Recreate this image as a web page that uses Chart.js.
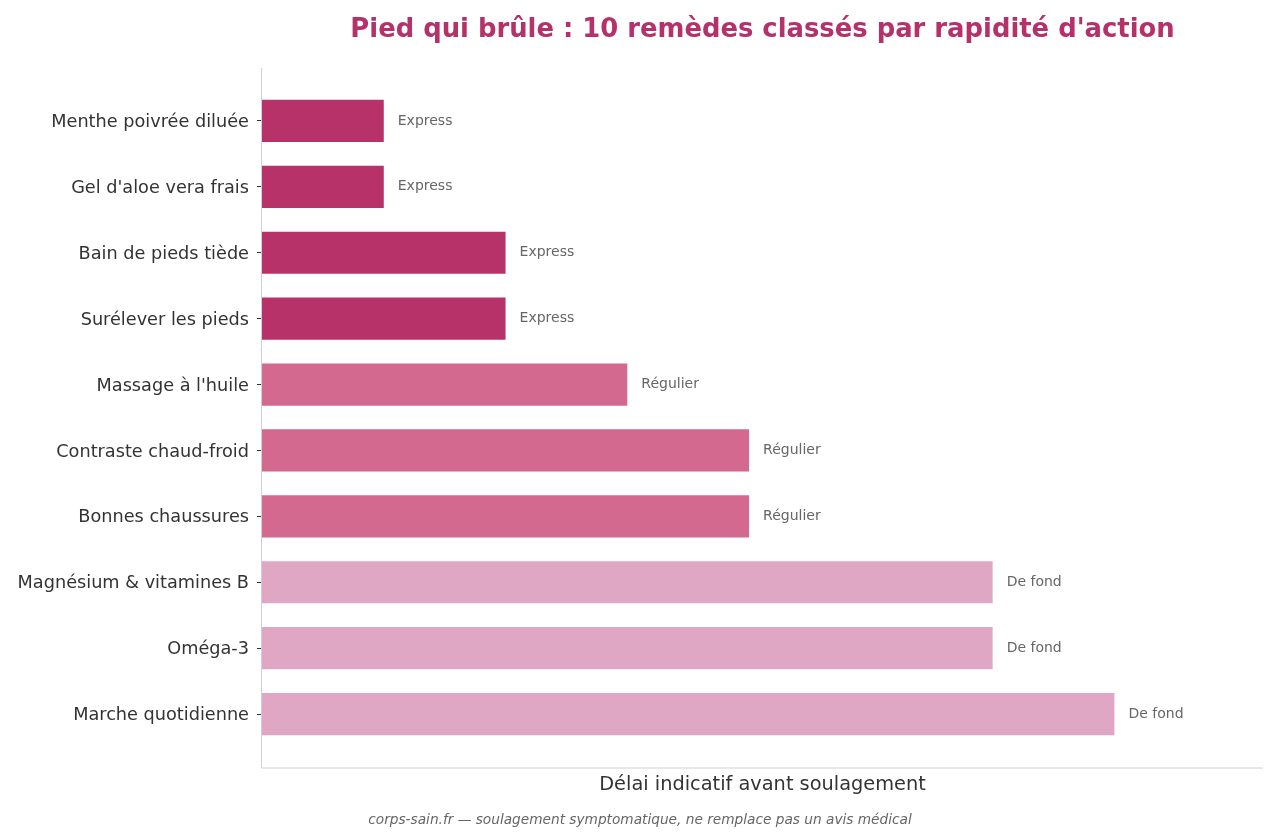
<!DOCTYPE html>
<html>
<head>
<meta charset="utf-8">
<script src="https://cdn.jsdelivr.net/npm/chart.js"></script>
<style>
  html, body { margin: 0; padding: 0; background: #fff; }
  #wrap { width: 1280px; height: 837px; }
</style>
</head>
<body>
<div id="wrap"><canvas id="chart" width="1280" height="837"></canvas></div>
<script>
const categories = [
  'Menthe poivrée diluée',
  "Gel d'aloe vera frais",
  'Bain de pieds tiède',
  'Surélever les pieds',
  "Massage à l'huile",
  'Contraste chaud-froid',
  'Bonnes chaussures',
  'Magnésium & vitamines B',
  'Oméga-3',
  'Marche quotidienne'
];
const delays = [1, 1, 2, 2, 3, 4, 4, 6, 6, 7];
const speedGroups = ['Express', 'Express', 'Express', 'Express', 'Régulier', 'Régulier', 'Régulier', 'De fond', 'De fond', 'De fond'];
const groupColors = { 'Express': '#B8326A', 'Régulier': '#D4698F', 'De fond': '#E0A7C5' };

const titleText = "Pied qui brûle : 10 remèdes classés par rapidité d'action";
const footerText = 'corps-sain.fr — soulagement symptomatique, ne remplace pas un avis médical';

// spines, bar labels, title and footer
const decorations = {
  id: 'decorations',
  afterDatasetsDraw(chart) {
    const ctx = chart.ctx;
    const area = chart.chartArea;
    ctx.save();
    // spines
    ctx.strokeStyle = '#d0d0d0';
    ctx.lineWidth = 1;
    ctx.beginPath();
    ctx.moveTo(area.left - 0.5, area.top - 20);
    ctx.lineTo(area.left - 0.5, area.bottom + 21);
    ctx.lineTo(area.right, area.bottom + 21);
    ctx.stroke();

    // group labels after the bars
    ctx.font = '14px "DejaVu Sans"';
    ctx.fillStyle = '#666';
    ctx.textAlign = 'left';
    ctx.textBaseline = 'middle';
    chart.getDatasetMeta(0).data.forEach((bar, i) => {
      ctx.fillText(speedGroups[i], bar.x + 14, bar.y);
    });

    // title
    ctx.font = 'bold 25.85px "DejaVu Sans"';
    ctx.fillStyle = '#B5316A';
    ctx.textAlign = 'center';
    ctx.fillText(titleText, (area.left + area.right) / 2, 30);

    // footer
    ctx.font = 'italic 13.7px "DejaVu Sans"';
    ctx.fillStyle = '#666';
    ctx.fillText(footerText, chart.width / 2, 820);
    ctx.restore();
  }
};

new Chart(document.getElementById('chart'), {
  type: 'bar',
  data: {
    labels: categories,
    datasets: [{
      data: delays,
      backgroundColor: speedGroups.map(g => groupColors[g]),
      borderWidth: 0,
      barPercentage: 0.64,
      categoryPercentage: 1
    }]
  },
  options: {
    indexAxis: 'y',
    responsive: false,
    animation: false,
    layout: { padding: { top: 88, right: 17, left: 0, bottom: 0 } },
    plugins: {
      legend: { display: false },
      tooltip: { enabled: false },
      title: { display: false }
    },
    scales: {
      x: {
        min: 0,
        max: 8.22,
        grid: { display: false },
        border: { display: false },
        ticks: { display: false },
        title: {
          display: true,
          text: 'Délai indicatif avant soulagement',
          color: '#333',
          font: { family: 'DejaVu Sans', size: 19.35 },
          padding: { top: 0, bottom: 40 }
        },
        afterFit(scale) { scale.height = 90; }
      },
      y: {
        grid: { display: true, offset: false, drawOnChartArea: false, drawTicks: true, tickLength: 5, color: '#333' },
        border: { display: false },
        ticks: {
          color: '#333',
          padding: 8,
          labelOffset: 1.5,
          font: { family: 'DejaVu Sans', size: 17.7 }
        },
        afterFit(scale) { scale.width = 262; }
      }
    }
  },
  plugins: [decorations]
});
</script>
</body>
</html>
